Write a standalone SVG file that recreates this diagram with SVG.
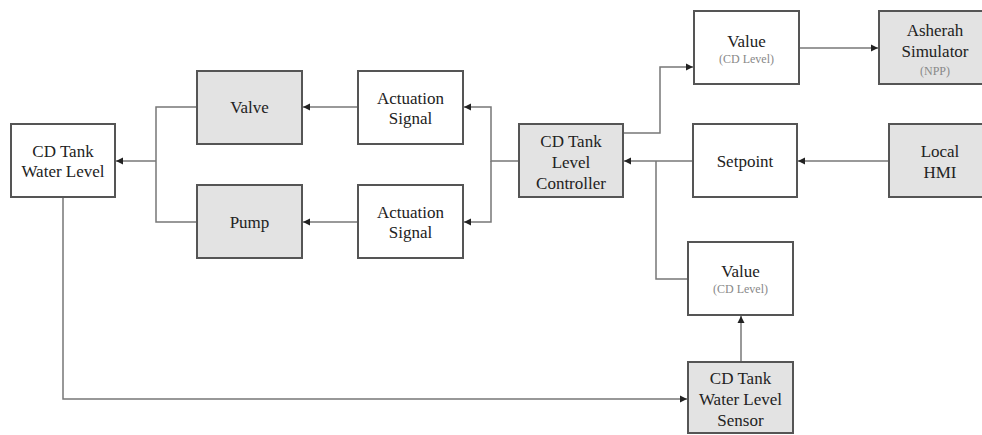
<svg xmlns="http://www.w3.org/2000/svg" width="982" height="435" viewBox="0 0 982 435" font-family="'Liberation Serif', 'Times New Roman', 'DejaVu Serif', serif">
<style>
.box{fill:#ffffff;stroke:#555;stroke-width:2}
.gbox{fill:#e3e3e3;stroke:#555;stroke-width:2}
text{font-family:'Liberation Serif','Times New Roman','DejaVu Serif',serif}
.t{font-size:17px;fill:#222;text-anchor:middle}
.s{font-size:12px;fill:#888;text-anchor:middle}
.c{fill:none;stroke:#777;stroke-width:1.5}
</style>
<defs>
<marker id="arr" markerWidth="8" markerHeight="8" refX="7" refY="4" orient="auto" markerUnits="userSpaceOnUse">
<path d="M0,0.5 L7,4 L0,7.5 Z" fill="#222"/>
</marker>
</defs>
<rect width="982" height="435" fill="#ffffff"/>
<g id="connectors">
<path class="c" d="M197,107 H156 V222 H197"/>
<path class="c" d="M156,161 H116" marker-end="url(#arr)"/>
<path class="c" d="M519,161 H491 V107 H464" marker-end="url(#arr)"/>
<path class="c" d="M491,161 V222 H464" marker-end="url(#arr)"/>
<path class="c" d="M358,107 H303" marker-end="url(#arr)"/>
<path class="c" d="M358,222 H303" marker-end="url(#arr)"/>
<path class="c" d="M623,133 H660 V67 H693" marker-end="url(#arr)"/>
<path class="c" d="M799,48 H878" marker-end="url(#arr)"/>
<path class="c" d="M888,161 H798" marker-end="url(#arr)"/>
<path class="c" d="M693,161 H624" marker-end="url(#arr)"/>
<path class="c" d="M688,279 H656 V161"/>
<path class="c" d="M741,362 V316" marker-end="url(#arr)"/>
<path class="c" d="M63,197 V399 H687" marker-end="url(#arr)"/>
</g>
<g id="tank">
<rect class="box" x="11" y="124" width="104" height="73"/>
<text class="t" x="63" y="157">CD Tank</text>
<text class="t" x="63" y="177">Water Level</text>
</g>
<g id="valve">
<rect class="gbox" x="197" y="71" width="105" height="73"/>
<text class="t" x="249.5" y="113">Valve</text>
</g>
<g id="pump">
<rect class="gbox" x="197" y="185" width="105" height="73"/>
<text class="t" x="249.5" y="228">Pump</text>
</g>
<g id="act1">
<rect class="box" x="358" y="71" width="105" height="73"/>
<text class="t" x="410.5" y="104">Actuation</text>
<text class="t" x="410.5" y="124">Signal</text>
</g>
<g id="act2">
<rect class="box" x="358" y="185" width="105" height="73"/>
<text class="t" x="410.5" y="218">Actuation</text>
<text class="t" x="410.5" y="238">Signal</text>
</g>
<g id="controller">
<rect class="gbox" x="519" y="124" width="104" height="73"/>
<text class="t" x="571" y="147">CD Tank</text>
<text class="t" x="571" y="168">Level</text>
<text class="t" x="571" y="189">Controller</text>
</g>
<g id="value1">
<rect class="box" x="694" y="11" width="105" height="73"/>
<text class="t" x="746.5" y="47">Value</text>
<text class="s" x="746.5" y="63">(CD Level)</text>
</g>
<g id="asherah">
<rect class="gbox" x="879" y="11" width="112" height="73"/>
<text class="t" x="935" y="36">Asherah</text>
<text class="t" x="935" y="57">Simulator</text>
<text class="s" x="935" y="75">(NPP)</text>
</g>
<g id="setpoint">
<rect class="box" x="693" y="124" width="104" height="73"/>
<text class="t" x="745" y="167">Setpoint</text>
</g>
<g id="hmi">
<rect class="gbox" x="889" y="124" width="103" height="73"/>
<text class="t" x="940" y="157">Local</text>
<text class="t" x="940" y="178">HMI</text>
</g>
<g id="value2">
<rect class="box" x="688" y="242" width="105" height="73"/>
<text class="t" x="740.5" y="277">Value</text>
<text class="s" x="740.5" y="293">(CD Level)</text>
</g>
<g id="sensor">
<rect class="gbox" x="688" y="362" width="105" height="71"/>
<text class="t" x="740.5" y="384">CD Tank</text>
<text class="t" x="740.5" y="405">Water Level</text>
<text class="t" x="740.5" y="426">Sensor</text>
</g>
</svg>
